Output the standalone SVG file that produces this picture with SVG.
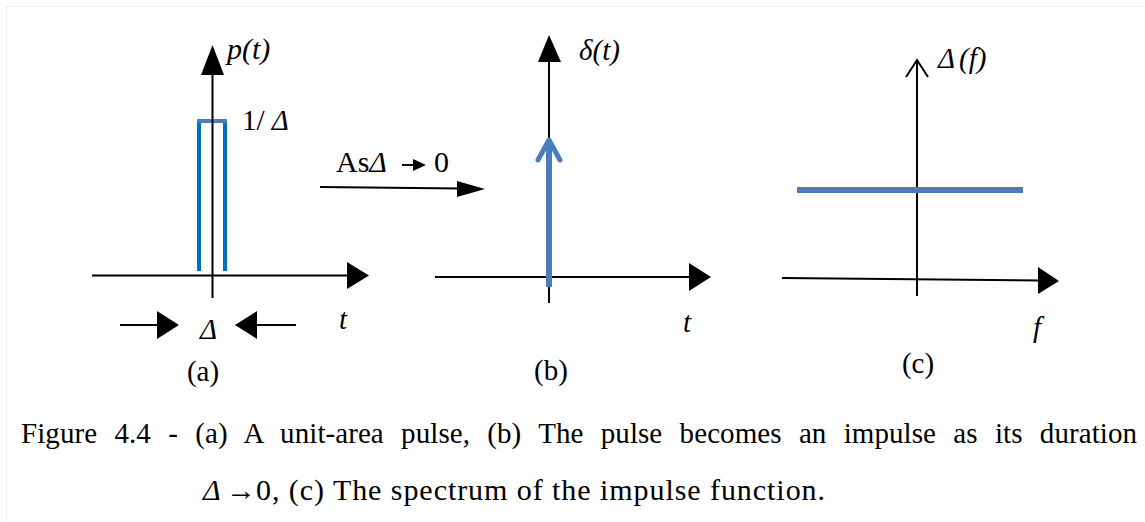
<svg xmlns="http://www.w3.org/2000/svg" width="1145" height="522" viewBox="0 0 1145 522">
<style>
.ax{stroke:#000;stroke-width:2;fill:none}
.ah{fill:#000;stroke:none}
.blue{stroke:#4a7ebb;fill:none}
text{font-family:"Liberation Serif","Times New Roman",serif;fill:#000}
.i{font-style:italic}
</style>
<rect width="1145" height="522" fill="#fff"/>
<g id="frame">
<line x1="6.5" y1="6.5" x2="1145" y2="6.5" stroke="#cfe6f3" stroke-width="1" stroke-dasharray="2,2"/>
<line x1="6.5" y1="6.5" x2="6.5" y2="522" stroke="#cfe6f3" stroke-width="1" stroke-dasharray="2,2"/>
</g>
<g id="panel-a">
<polyline points="199,271 199,121 225,121 225,271" stroke="#0070c0" stroke-width="4" fill="none"/>
<line x1="197" y1="121" x2="227" y2="121" stroke="#4a7ebb" stroke-width="4"/>
<line class="ax" x1="212.5" y1="72" x2="212.5" y2="298"/>
<polygon class="ah" points="212.5,45 201,75 224,75"/>
<line class="ax" x1="92" y1="275.5" x2="350" y2="275.5"/>
<polygon class="ah" points="369,275.5 347,262 347,289"/>
<line class="ax" x1="120" y1="325" x2="158" y2="325"/>
<polygon class="ah" points="179,325 157,311 157,339"/>
<line class="ax" x1="256" y1="325" x2="296" y2="325"/>
<polygon class="ah" points="235,325 257,311 257,339"/>
<text class="i" x="227" y="59" font-size="30">p(t)</text>
<text x="242" y="130" font-size="29">1/ <tspan class="i">Δ</tspan></text>
<text class="i" x="200" y="339" font-size="29">Δ</text>
<text class="i" x="339" y="329" font-size="29">t</text>
<text x="203" y="381" font-size="29" text-anchor="middle">(a)</text>
</g>
<g id="transition">
<text x="336" y="172" font-size="30">As<tspan class="i">Δ</tspan></text>
<line class="ax" x1="402" y1="165" x2="415" y2="165"/>
<polygon class="ah" points="426,165 413,159 413,171"/>
<text x="434" y="172" font-size="30">0</text>
<line class="ax" x1="320" y1="187" x2="460" y2="188.5"/>
<polygon class="ah" points="485,189 457,181 457,197"/>
</g>
<g id="panel-b">
<line class="ax" x1="549" y1="60" x2="549" y2="303"/>
<polygon class="ah" points="549,35 538,62 561,62"/>
<line class="ax" x1="435" y1="277" x2="692" y2="277"/>
<polygon class="ah" points="711,277 689,263 689,291"/>
<line class="blue" x1="549" y1="287" x2="549" y2="140" stroke-width="6"/>
<polyline class="blue" points="538,160 549,140 560,160" stroke-width="5" stroke-linecap="round" stroke-linejoin="round"/>
<text class="i" x="579" y="60" font-size="29">δ(t)</text>
<text class="i" x="683" y="332" font-size="29">t</text>
<text x="551" y="380" font-size="29" text-anchor="middle">(b)</text>
</g>
<g id="panel-c">
<line class="ax" x1="917" y1="61" x2="917" y2="296"/>
<polyline class="ax" points="906,77 917,60 928,77"/>
<line class="ax" x1="782" y1="278" x2="1040" y2="280.5"/>
<polygon class="ah" points="1059,281 1038,267 1038,294"/>
<line class="blue" x1="797" y1="190" x2="1023" y2="190" stroke-width="6"/>
<text class="i" x="938" y="68" font-size="29">Δ<tspan dx="4">(f)</tspan></text>
<text class="i" x="1033" y="337" font-size="29">f</text>
<text x="918" y="373" font-size="29" text-anchor="middle">(c)</text>
</g>
<g id="caption">
<text x="21" y="443" font-size="29" word-spacing="10" textLength="1116" lengthAdjust="spacing">Figure 4.4 - (a) A unit-area pulse, (b) The pulse becomes an impulse as its duration</text>
<text y="500" font-size="30"><tspan class="i" x="203">Δ</tspan><tspan x="226">→</tspan><tspan x="256">0</tspan></text>
<text x="272" y="500" font-size="30" textLength="553" lengthAdjust="spacing">, (c) The spectrum of the impulse function.</text>
</g>
</svg>
